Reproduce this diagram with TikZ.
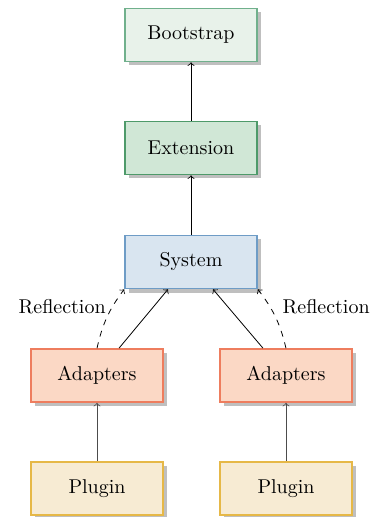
\documentclass[tikz,border=0pt]{standalone}
\usepackage{xcolor}
\usepackage{tikz}
\usetikzlibrary{shadows}
\definecolor{bootfill}{RGB}{232, 242, 234}
\definecolor{bootdraw}{RGB}{112, 176, 140}
\definecolor{extfill}{RGB}{208, 231, 214}
\definecolor{extdraw}{RGB}{78, 154, 106}
\definecolor{sysfill}{RGB}{217, 229, 240}
\definecolor{sysdraw}{RGB}{110, 156, 198}
\definecolor{adfill}{RGB}{251, 216, 197}
\definecolor{addraw}{RGB}{238, 125, 94}
\definecolor{plfill}{RGB}{247, 235, 211}
\definecolor{pldraw}{RGB}{230, 184, 71}

\tikzset{
  layer/.style={draw, line width=0.8pt, minimum width=66pt, minimum height=26.5pt,
    drop shadow={shadow xshift=2pt, shadow yshift=-2pt, fill=black!25, draw=none, opacity=1}},
  dep/.style={->, line width=0.4pt},
  refl/.style={->, dashed, line width=0.4pt}
}

\begin{document}
\begin{tikzpicture}[x=0.5pt, y=-0.5pt]
			\useasboundingbox (0,0) rectangle (376,517);
			
			% core stack
			\node[layer, fill=bootfill, draw=bootdraw] (boot) at (191, 35)  {Bootstrap};
			\node[layer, fill=extfill,  draw=extdraw]  (ext)  at (191, 148) {Extension};
			\node[layer, fill=sysfill,  draw=sysdraw]  (sys)  at (191, 262) {System};
			
			% adapters and plugins
			\node[layer, fill=adfill, draw=addraw] (adl) at (97, 375.5)  {Adapters};
			\node[layer, fill=adfill, draw=addraw] (adr) at (286, 375.5) {Adapters};
			\node[layer, fill=plfill, draw=pldraw] (pll) at (97, 488.5)  {Plugin};
			\node[layer, fill=plfill, draw=pldraw] (plr) at (286, 488.5) {Plugin};
			
			\draw[dep] (ext) -- (boot);
			\draw[dep] (sys) -- (ext);
			\draw[dep] ([xshift=11pt]adl.north) -- ([xshift=-11.5pt]sys.south);
			\draw[dep] ([xshift=-11.5pt]adr.north) -- ([xshift=11pt]sys.south);
			
			\draw[refl] (adl.north) to[bend left=12] node[pos=0.7, left=0pt] (rl) {Reflection} (sys.south west);
			\draw[refl] (adr.north) to[bend right=12] node[pos=0.7, right=3pt] (rr) {Reflection} (sys.south east);
			
			\draw[dep, black!70] (pll) -- (adl);
			\draw[dep, black!70] (plr) -- (adr);
			
		\end{tikzpicture}
\end{document}
